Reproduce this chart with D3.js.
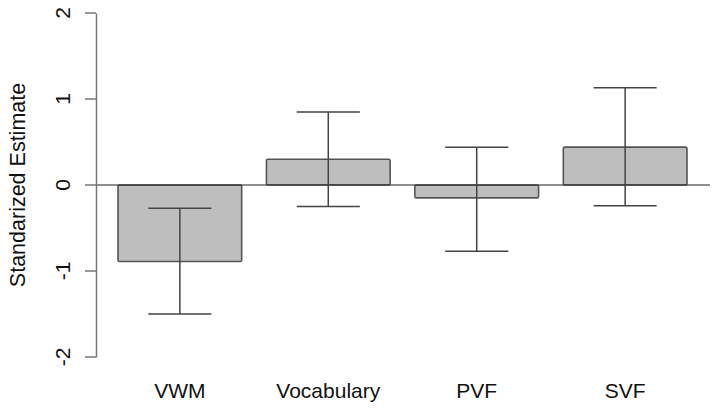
<!DOCTYPE html>
<html>
<head>
<meta charset="utf-8">
<script src="https://cdn.jsdelivr.net/npm/d3@7"></script>
<style>
  body { margin: 0; background: #fff; }
  svg { display: block; font-family: "Liberation Sans", Arial, sans-serif; }
</style>
</head>
<body>
<div class="chart"></div>
<script>
const categories = ["VWM", "Vocabulary", "PVF", "SVF"]
const estimates = [-0.89, 0.30, -0.15, 0.44]
const lower = [-1.50, -0.25, -0.77, -0.24]
const upper = [-0.27, 0.85, 0.44, 1.13]
const yTicks = [-2, -1, 0, 1, 2]

const width = 718
const height = 412

const data = categories.map((c, i) => ({ name: c, value: estimates[i], lo: lower[i], hi: upper[i] }))

const svg = d3.select(".chart").append("svg").attr("width", width).attr("height", height)

const plotLeft = 96
const plotRight = 710

const yScale = d3.scaleLinear().domain([-2, 2]).range([357, 13])
const xScale = d3
  .scaleBand()
  .domain(categories)
  .range([118, 687])
  .paddingInner(0.2 / 1.2)
  .paddingOuter(0)

// bars
svg
  .selectAll(".bar")
  .data(data)
  .enter()
  .append("rect")
  .attr("class", "bar")
  .attr("x", d => xScale(d.name))
  .attr("width", xScale.bandwidth())
  .attr("y", d => yScale(Math.max(0, d.value)))
  .attr("height", d => Math.abs(yScale(d.value) - yScale(0)))
  .attr("rx", 1.5)
  .style("fill", "#bebebe")
  .style("stroke", "#555")
  .style("stroke-width", 1.6)

// zero line
svg
  .append("line")
  .attr("x1", plotLeft)
  .attr("x2", plotRight)
  .attr("y1", yScale(0))
  .attr("y2", yScale(0))
  .style("stroke", "#222")
  .style("stroke-width", 1.2)

// error bars
const err = svg.selectAll(".err").data(data).enter().append("g").attr("class", "err")
const cx = d => xScale(d.name) + xScale.bandwidth() / 2
const capHalf = xScale.bandwidth() * 0.255

err
  .append("line")
  .attr("x1", cx)
  .attr("x2", cx)
  .attr("y1", d => yScale(d.lo))
  .attr("y2", d => yScale(d.hi))
err
  .append("line")
  .attr("x1", d => cx(d) - capHalf)
  .attr("x2", d => cx(d) + capHalf)
  .attr("y1", d => yScale(d.hi))
  .attr("y2", d => yScale(d.hi))
err
  .append("line")
  .attr("x1", d => cx(d) - capHalf)
  .attr("x2", d => cx(d) + capHalf)
  .attr("y1", d => yScale(d.lo))
  .attr("y2", d => yScale(d.lo))
err.selectAll("line").style("stroke", "#444").style("stroke-width", 1.5)

// y axis
const yAxis = d3
  .axisLeft(yScale)
  .tickValues(yTicks)
  .tickFormat(d => String(d))
  .tickSize(11)
  .tickSizeOuter(0)
  .tickPadding(0)
const yAxisGroup = svg.append("g").attr("transform", `translate(${plotLeft}, 0)`).call(yAxis)
yAxisGroup.selectAll("path, line").style("stroke", "#777").style("stroke-width", 1.5)
yAxisGroup
  .selectAll("text")
  .attr("x", null)
  .attr("dy", null)
  .attr("transform", d => `translate(-26, ${yScale(d)}) rotate(-90)`)
  .attr("y", 0)
  .attr("text-anchor", "middle")
  .style("font-size", "21px")
  .style("font-family", "'Liberation Sans', Arial, sans-serif")
  .style("fill", "#111")
yAxisGroup.selectAll(".tick").attr("transform", "translate(0,0)")
yAxisGroup.selectAll(".tick line").attr("y1", d => yScale(d)).attr("y2", d => yScale(d))

// x labels
svg
  .selectAll(".xlab")
  .data(categories)
  .enter()
  .append("text")
  .attr("class", "xlab")
  .attr("x", d => xScale(d) + xScale.bandwidth() / 2)
  .attr("y", 398)
  .attr("text-anchor", "middle")
  .style("font-size", "21px")
  .style("fill", "#111")
  .text(d => d)

// y title
svg
  .append("text")
  .attr("transform", `translate(25, ${yScale(0)}) rotate(-90)`)
  .attr("text-anchor", "middle")
  .style("font-size", "21.5px")
  .style("fill", "#111")
  .text("Standarized Estimate")
</script>
</body>
</html>
